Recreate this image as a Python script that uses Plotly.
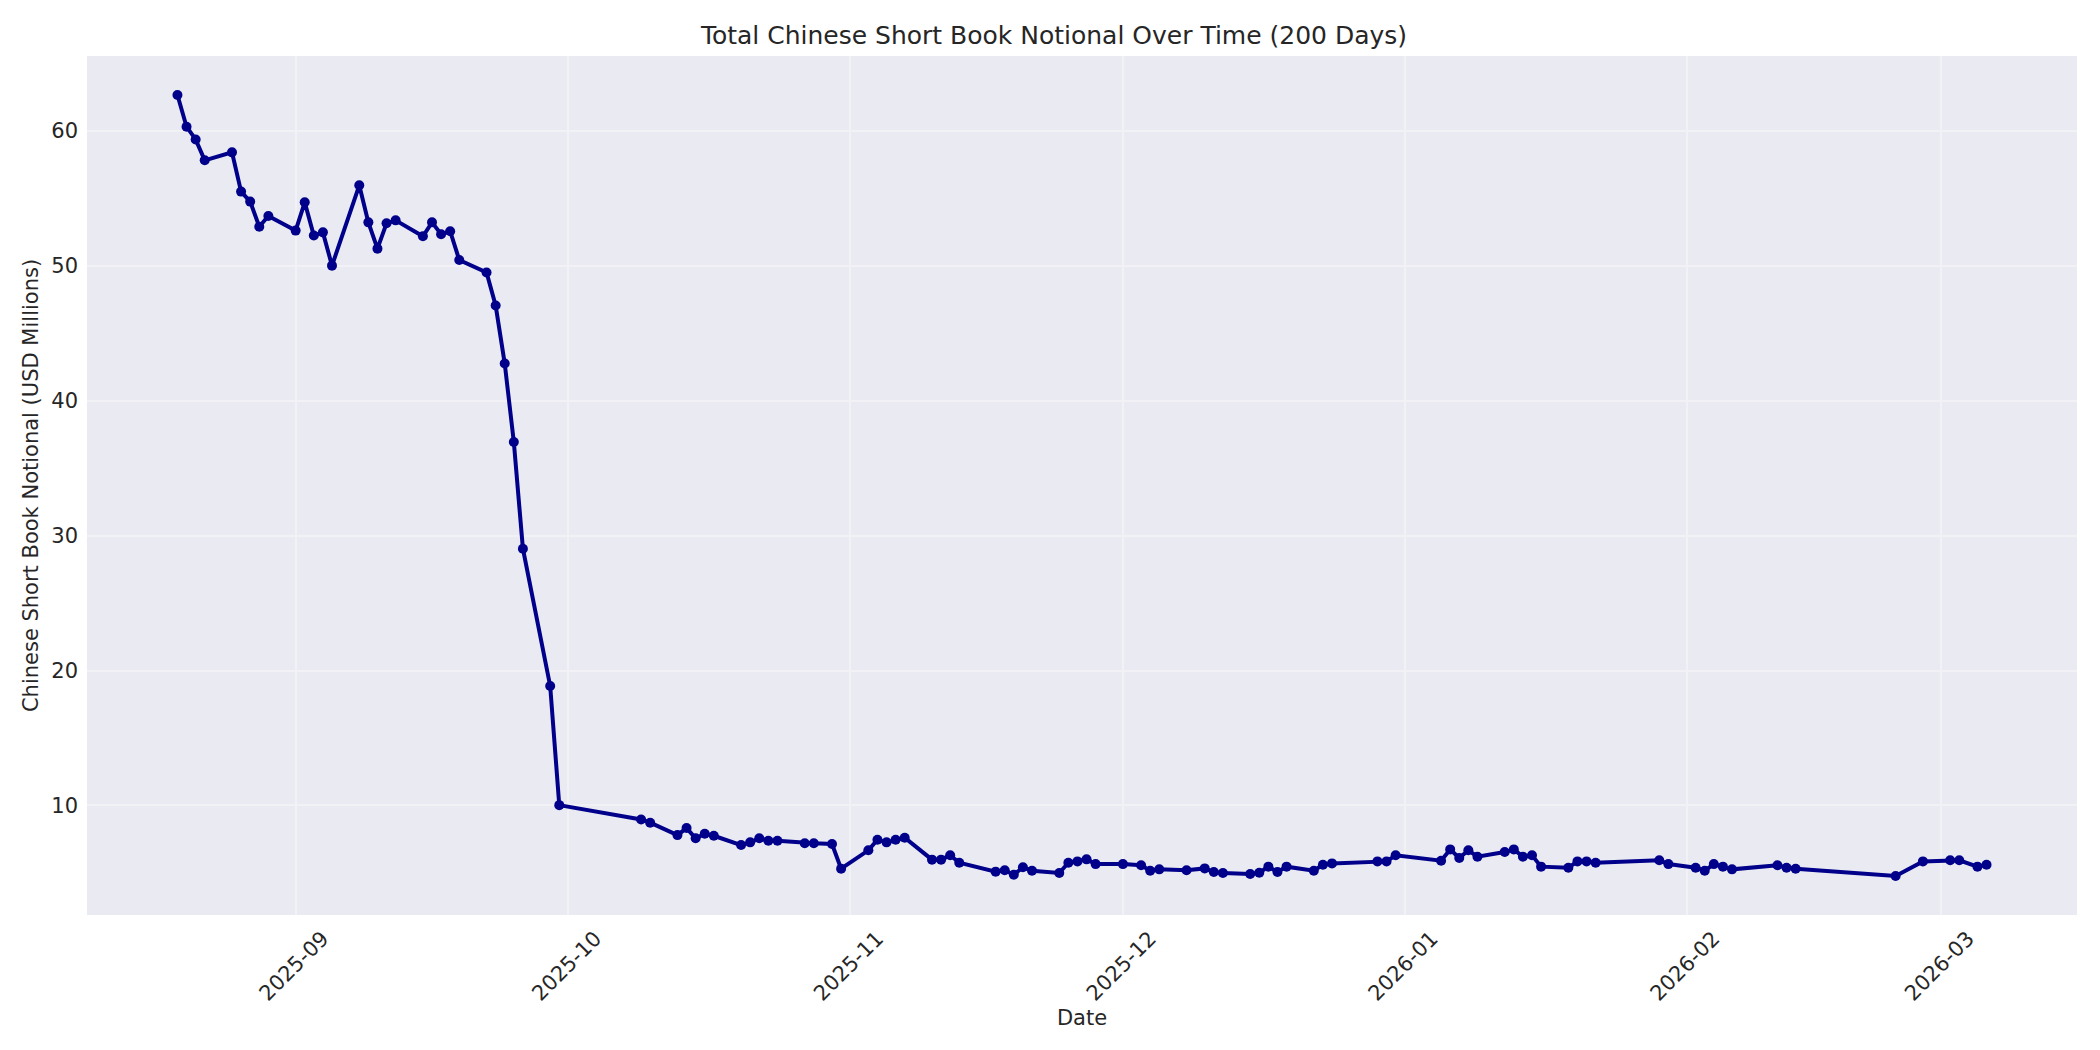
import pandas as pd
import plotly.graph_objects as go

# short book notional (USD millions)
aug_days = [19, 20, 21, 22, 25, 26, 27, 28, 29]
aug_vals = [62.67, 60.32, 59.38, 57.83, 58.42, 55.51, 54.77, 52.91, 53.70]
sep_days = [1, 2, 3, 4, 5, 8, 9, 10, 11, 12, 15, 16, 17, 18, 19, 22, 23, 24, 25, 26, 29, 30]
sep_vals = [52.62, 54.72, 52.25, 52.49, 50.02, 55.98, 53.23, 51.28, 53.16, 53.38, 52.20,
            53.23, 52.35, 52.57, 50.44, 49.51, 47.07, 42.76, 36.95, 29.03, 18.86, 10.02]
oct_days = [9, 10, 13, 14, 15, 16, 17, 20, 21, 22, 23, 24, 27, 28, 30, 31]
oct_vals = [8.96, 8.72, 7.80, 8.32, 7.56, 7.90, 7.75, 7.06, 7.26, 7.56, 7.38, 7.38,
            7.19, 7.19, 7.14, 5.31]
nov_days = [3, 4, 5, 6, 7, 10, 11, 12, 13, 17, 18, 19, 20, 21, 24, 25, 26, 27, 28]
nov_vals = [6.67, 7.46, 7.26, 7.46, 7.60, 5.98, 5.98, 6.30, 5.75, 5.09, 5.19, 4.86,
            5.41, 5.16, 4.99, 5.75, 5.85, 6.00, 5.65]
dec_days = [1, 3, 4, 5, 8, 10, 11, 12, 15, 16, 17, 18, 19, 22, 23, 24, 29, 30, 31]
dec_vals = [5.65, 5.56, 5.16, 5.26, 5.19, 5.33, 5.06, 4.99, 4.91, 5.01, 5.46, 5.06,
            5.46, 5.16, 5.60, 5.70, 5.85, 5.85, 6.30]
jan_days = [5, 6, 7, 8, 9, 12, 13, 14, 15, 16, 19, 20, 21, 22, 29, 30]
jan_vals = [5.90, 6.74, 6.10, 6.67, 6.20, 6.54, 6.74, 6.20, 6.30, 5.46, 5.38, 5.85,
            5.85, 5.75, 5.93, 5.65]
feb_days = [2, 3, 4, 5, 6, 11, 12, 13, 24, 27]
feb_vals = [5.38, 5.16, 5.65, 5.46, 5.26, 5.56, 5.38, 5.31, 4.77, 5.85]
mar_days = [2, 3, 5, 6]
mar_vals = [5.93, 5.93, 5.46, 5.60]

months = [("2025-08", aug_days, aug_vals), ("2025-09", sep_days, sep_vals),
          ("2025-10", oct_days, oct_vals), ("2025-11", nov_days, nov_vals),
          ("2025-12", dec_days, dec_vals), ("2026-01", jan_days, jan_vals),
          ("2026-02", feb_days, feb_vals), ("2026-03", mar_days, mar_vals)]

dates = []
values = []
for ym, days, vals in months:
    dates += [pd.Timestamp("%s-%02d" % (ym, d)) for d in days]
    values += vals

# matplotlib style 5% margins
span = dates[-1] - dates[0]
x_range = [dates[0] - span * 0.05, dates[-1] + span * 0.05]
vspan = max(values) - min(values)
y_range = [min(values) - vspan * 0.05, max(values) + vspan * 0.05]

font = "DejaVu Sans"
text_col = "#262626"

# page body has an 8px margin, so the figure is a bit smaller than the window
W, H = 2092, 1042

fig = go.Figure()
fig.add_trace(go.Scatter(x=dates, y=values, mode="lines+markers",
                         line=dict(color="#00008B", width=4),
                         marker=dict(color="#00008B", size=10),
                         showlegend=False))

fig.update_layout(
    width=W, height=H,
    paper_bgcolor="white", plot_bgcolor="#EAEAF2",
    margin=dict(l=79, r=23, t=48, b=135),
    font=dict(family=font, size=21, color=text_col),
    title=dict(text="Total Chinese Short Book Notional Over Time (200 Days)",
               x=0.5, xanchor="center", y=1 - 27 / H, yanchor="middle",
               font=dict(size=25, color=text_col)),
)
fig.update_xaxes(range=x_range, dtick="M1", tick0="2025-09-01", tickformat="%Y-%m",
                 tickangle=-45, ticklabelshift=27, ticklabelstandoff=6,
                 showgrid=True, gridcolor="#F1F1F6", gridwidth=2,
                 showline=False, zeroline=False, ticks="",
                 title=dict(text="Date", standoff=4, font=dict(size=21)),
                 tickfont=dict(size=21, color=text_col))
fig.update_yaxes(range=y_range, dtick=10, tick0=0,
                 showgrid=True, gridcolor="#F1F1F6", gridwidth=2,
                 showline=False, zeroline=False, ticks="", ticklabelstandoff=8,
                 title=dict(text="Chinese Short Book Notional (USD Millions)",
                            standoff=6, font=dict(size=21)),
                 tickfont=dict(size=21, color=text_col))

fig.write_html("out.html")
